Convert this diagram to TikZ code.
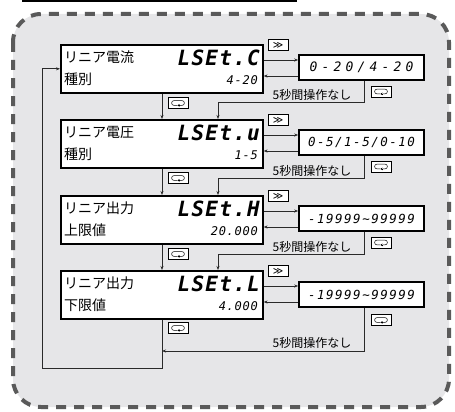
\documentclass[tikz,border=0pt]{standalone}
\usepackage{fontspec}
\setmainfont{Noto Sans CJK JP}
\newfontfamily\segA[LetterSpace=6]{DejaVu Sans Mono}
\newfontfamily\segB[LetterSpace=12]{DejaVu Sans Mono}
\newfontfamily\segC[LetterSpace=32]{DejaVu Sans Mono}
\newfontfamily\symf{DejaVu Sans}
\usetikzlibrary{arrows.meta,calc}
\definecolor{panel}{HTML}{E6E6E8}
\definecolor{dashc}{HTML}{5A5A5A}
\definecolor{linec}{HTML}{2A2A2A}
\begin{document}
\begin{tikzpicture}[x=1pt,y=-1pt,
  mainbox/.style={draw=black,line width=1.6pt,fill=white,minimum width=202pt,minimum height=48pt,anchor=north west,inner sep=0pt},
  valbox/.style={draw=black,line width=1.6pt,fill=white,minimum width=125pt,minimum height=25pt,inner sep=0pt},
  iconbox/.style={draw=black,line width=0.7pt,fill=white,minimum width=20pt,minimum height=11pt,inner sep=0pt},
  jp/.style={anchor=west,font=\fontsize{14}{14}\selectfont,inner sep=0pt},
  segmain/.style={anchor=east,inner sep=0pt,font=\segA\bfseries\itshape\fontsize{21}{21}\selectfont},
  segsub/.style={anchor=east,inner sep=0pt,font=\segA\itshape\fontsize{12}{12}\selectfont},
  note/.style={inner sep=0pt,font=\fontsize{12}{12}\selectfont},
  conn/.style={draw=linec,line width=0.8pt},
  arr/.style={conn,-{Stealth[length=4pt,width=3pt]}},
  fficon/.style={iconbox,font=\symf\fontsize{10}{10}\selectfont},
  loopg/.pic={
    \draw[line width=0.5pt] (-1,2.4) -- (-4,2.4) arc[start angle=90,end angle=270,radius=2.4] -- (4,-2.4) arc[start angle=270,end angle=450,radius=2.4] -- (2.2,2.4);
    \draw[line width=0.5pt,-{Stealth[length=2.2pt,width=2.6pt]}] (1.5,2.4) -- (-0.6,2.4);
  }]
\useasboundingbox (0,0) rectangle (455,412);
% top rule and frame
\draw[line width=1.6pt] (22,0.8) -- (297,0.8);
\draw[dashc,line width=4pt,dash pattern=on 10pt off 8pt,fill=panel,rounded corners=28pt] (13,14) rectangle (449,407);

% main boxes
\node[mainbox] (b1) at (60,44) {};
\node[mainbox] (b2) at (60,119) {};
\node[mainbox] (b3) at (60,195) {};
\node[mainbox] (b4) at (60,270) {};

\node[jp] (j1a) at (64,57) {リニア電流};
\node[jp] (j1b) at (64,79) {種別};
\node[jp] (j2a) at (64,132) {リニア電圧};
\node[jp] (j2b) at (64,154) {種別};
\node[jp] (j3a) at (64,208) {リニア出力};
\node[jp] (j3b) at (64,230) {上限値};
\node[jp] (j4a) at (64,283) {リニア出力};
\node[jp] (j4b) at (64,305) {下限値};

\node[segmain] (s1) at (260,58) {LSEt.C};
\node[segmain] (s2) at (260,133) {LSEt.u};
\node[segmain] (s3) at (260,209) {LSEt.H};
\node[segmain] (s4) at (260,284) {LSEt.L};
\node[segsub] (u1) at (258,80) {4-20};
\node[segsub] (u2) at (258,155) {1-5};
\node[segsub] (u3) at (258,231) {20.000};
\node[segsub] (u4) at (258,306) {4.000};

% value boxes
\node[valbox,font=\segC\itshape\fontsize{13}{13}\selectfont] (v1) at (361.5,67.5) {0-20/4-20};
\node[valbox,font=\segB\itshape\fontsize{12.5}{12.5}\selectfont] (v2) at (361.5,142.5) {0-5/1-5/0-10};
\node[valbox,font=\segB\itshape\fontsize{12.5}{12.5}\selectfont] (v3) at (361.5,218.5) {-19999\textasciitilde 99999};
\node[valbox,font=\segB\itshape\fontsize{12.5}{12.5}\selectfont] (v4) at (361.5,294.5) {-19999\textasciitilde 99999};

% >> icons
\node[fficon] (r1) at (278,45) {≫};
\node[fficon] (r2) at (278,120) {≫};
\node[fficon] (r3) at (278,196) {≫};
\node[fficon] (r4) at (278,271) {≫};

% loop icons (left column)
\node[iconbox] (l1) at (178,103) {};
\node[iconbox] (l2) at (178,178) {};
\node[iconbox] (l3) at (178,254) {};
\node[iconbox] (l4) at (178,328) {};
% loop icons (right column)
\node[iconbox] (m1) at (381,91.5) {};
\node[iconbox] (m2) at (381,166.5) {};
\node[iconbox] (m3) at (381,242.5) {};
\node[iconbox] (m4) at (381,320) {};
\foreach \n in {l1,l2,l3,l4,m1,m2,m3,m4} {\pic at (\n) {loopg};}

% notes
\node[note] (t1) at (312,95) {5秒間操作なし};
\node[note] (t2) at (312,171) {5秒間操作なし};
\node[note] (t3) at (312,247) {5秒間操作なし};
\node[note] (t4) at (312,343) {5秒間操作なし};

% helper coordinates
\coordinate (lx) at (162,0);
\coordinate (d1) at (364,102);
\coordinate (d2) at (364,178);
\coordinate (d3) at (364,254);
\coordinate (d4) at (364,351);
\coordinate (e1) at (218,102);
\coordinate (e2) at (218,178);
\coordinate (e3) at (218,254);
\coordinate (g1) at (162,368);
\coordinate (g2) at (42,368);

% right / left arrows between main and value boxes
\foreach \i in {1,2,3,4} {
  \coordinate (a\i) at ($(b\i.north east)+(0,16)$);
  \coordinate (c\i) at ($(b\i.north east)+(0,32)$);
  \draw[arr] (a\i) -- (a\i -| v\i.west);
  \draw[arr] (c\i -| v\i.west) -- (c\i);
}

% down arrows (left column)
\draw[arr] (b1.south -| lx) -- (b2.north -| lx);
\draw[arr] (b2.south -| lx) -- (b3.north -| lx);
\draw[arr] (b3.south -| lx) -- (b4.north -| lx);

% timeout returns
\draw[arr] (v1.south -| d1) -- (d1) -- (e1) -- (e1 |- b2.north);
\draw[arr] (v2.south -| d2) -- (d2) -- (e2) -- (e2 |- b3.north);
\draw[arr] (v3.south -| d3) -- (d3) -- (e3) -- (e3 |- b4.north);
\draw[arr] (v4.south -| d4) -- (d4) -- (d4 -| g1);

% loop back to the top
\draw[arr] (b4.south -| g1) -- (g1) -- (g2) -- (g2 |- b1.west) -- (b1.west);
\end{tikzpicture}
\end{document}
